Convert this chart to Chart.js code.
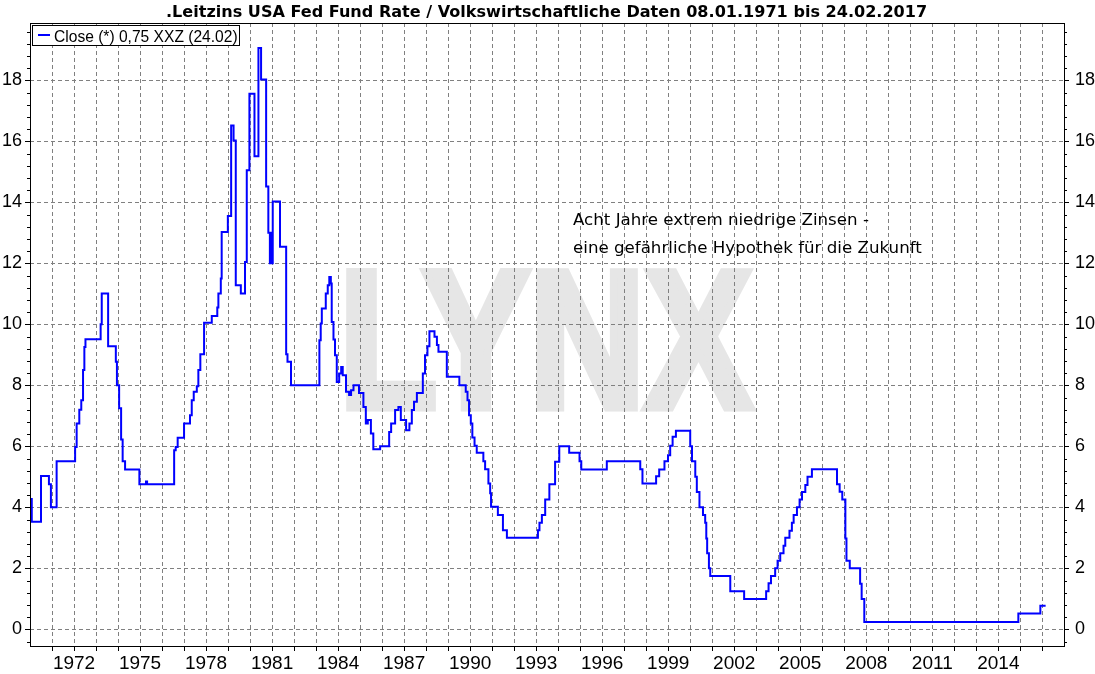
<!DOCTYPE html>
<html>
<head>
<meta charset="utf-8">
<script src="https://cdn.jsdelivr.net/npm/chart.js@4.4.1/dist/chart.umd.min.js"></script>
<style>html,body{margin:0;padding:0;background:#fff;overflow:hidden} canvas{display:block}</style>
</head>
<body>
<canvas id="c" width="1095" height="674"></canvas>
<script>
// Fed Funds rate, step changes (decimal year, percent)
const rateDates = [1971.02,1971.08,1971.50,1971.86,1971.95,1972.21,1973.05,1973.12,1973.24,1973.33,
  1973.41,1973.47,1973.52,1974.21,1974.26,1974.55,1974.90,1974.95,1975.05,1975.14,
  1975.21,1975.32,1975.97,1976.27,1976.32,1977.55,1977.62,1977.71,1978.00,1978.27,
  1978.35,1978.44,1978.58,1978.65,1978.74,1978.91,1979.26,1979.51,1979.56,1979.67,
  1979.71,1979.99,1980.14,1980.25,1980.35,1980.58,1980.77,1980.85,1980.97,1981.20,
  1981.38,1981.50,1981.73,1981.83,1981.90,1981.93,1981.98,1982.03,1982.36,1982.64,
  1982.70,1982.86,1984.15,1984.21,1984.26,1984.44,1984.53,1984.60,1984.67,1984.71,
  1984.79,1984.86,1984.94,1985.05,1985.14,1985.21,1985.36,1985.50,1985.59,1985.70,
  1985.95,1986.15,1986.26,1986.35,1986.49,1986.60,1986.91,1987.32,1987.41,1987.59,
  1987.74,1987.85,1988.09,1988.24,1988.35,1988.45,1988.58,1988.85,1988.95,1989.06,
  1989.15,1989.38,1989.49,1989.56,1989.94,1990.51,1990.80,1990.88,1990.95,1991.03,
  1991.10,1991.20,1991.30,1991.60,1991.68,1991.83,1991.91,1991.95,1992.26,1992.49,
  1992.67,1994.08,1994.15,1994.26,1994.41,1994.60,1994.86,1995.05,1995.50,1995.97,
  1996.05,1997.21,1998.73,1998.83,1999.45,1999.59,1999.83,1999.99,2000.09,2000.20,
  2000.35,2001.00,2001.08,2001.23,2001.30,2001.42,2001.58,2001.68,2001.73,2001.77,
  2001.85,2001.91,2002.82,2003.45,2004.45,2004.56,2004.67,2004.86,2004.97,2005.09,
  2005.24,2005.32,2005.51,2005.62,2005.70,2005.85,2005.97,2006.08,2006.23,2006.33,
  2006.53,2007.67,2007.79,2007.91,2008.05,2008.10,2008.25,2008.72,2008.79,2008.91,
  2015.91,2016.91,2017.15];
const rateValues = [4.27,3.53,5.03,4.76,4.00,5.51,5.98,6.75,7.20,7.51,
  8.50,9.26,9.51,10.00,11.01,9.28,8.77,8.00,7.25,6.22,
  5.51,5.24,4.76,4.85,4.76,5.87,5.98,6.28,6.75,7.02,
  7.51,7.79,7.97,8.50,9.02,10.05,10.27,10.55,11.01,11.50,
  13.03,13.55,16.52,16.03,11.28,11.01,12.04,15.05,17.56,15.51,
  19.06,18.03,14.52,13.00,12.00,13.00,12.00,14.03,12.54,9.02,
  8.77,8.00,9.48,10.03,10.52,11.01,11.28,11.55,11.34,10.08,
  9.50,8.99,8.11,8.39,8.60,8.33,7.79,7.68,7.84,8.00,
  7.75,7.29,6.75,6.86,6.42,5.90,6.00,6.47,6.75,7.19,
  7.29,6.86,6.53,6.75,7.19,7.46,7.75,8.39,8.99,9.28,
  9.77,9.59,9.32,9.10,8.28,8.00,7.79,7.51,7.02,6.75,
  6.29,6.02,5.79,5.51,5.25,4.78,4.46,4.02,3.75,3.25,
  3.00,3.25,3.49,3.75,4.26,4.76,5.49,6.00,5.79,5.51,
  5.24,5.51,5.25,4.78,5.02,5.24,5.51,5.71,6.02,6.31,
  6.51,6.00,5.51,5.00,4.50,4.00,3.75,3.49,2.98,2.49,
  2.00,1.75,1.25,0.99,1.25,1.51,1.75,2.00,2.25,2.49,
  2.74,3.00,3.23,3.49,3.75,4.00,4.26,4.50,4.73,5.00,
  5.25,4.76,4.51,4.26,2.98,2.25,2.00,1.49,0.99,0.24,
  0.52,0.77,0.77];
const yTickValues = [0,2,4,6,8,10,12,14,16,18];
const xLabelYears = [1972,1975,1978,1981,1984,1987,1990,1993,1996,1999,2002,2005,2008,2011,2014];
const gridYears = [];
for (let y = 1971; y <= 2018; y++) gridYears.push(y);

const TITLE = ".Leitzins USA Fed Fund Rate / Volkswirtschaftliche Daten 08.01.1971 bis 24.02.2017";
const LEGEND = "Close (*) 0,75 XXZ (24.02)";
const NOTE = ["Acht Jahre extrem niedrige Zinsen -", "eine gefährliche Hypothek für die Zukunft"];
const SANS = '"Liberation Sans", Arial, sans-serif';

// fit a string's ink width by horizontal scaling
function fitText(ctx, txt, x, y, w, stroke){
  const m = ctx.measureText(txt);
  const ink = m.actualBoundingBoxRight + m.actualBoundingBoxLeft;
  const s = w / ink;
  ctx.save(); ctx.translate(x + m.actualBoundingBoxLeft * s, y); ctx.scale(s, 1);
  ctx.fillText(txt, 0, 0);
  if (stroke) ctx.strokeText(txt, 0, 0);
  ctx.restore();
}

const deco = {
  id: 'deco',
  beforeDraw(chart){
    const ctx = chart.ctx;
    ctx.save();
    ctx.fillStyle = '#fff'; ctx.fillRect(0, 0, chart.width, chart.height);
    // watermark: heavy, narrow letters
    ctx.fillStyle = '#e6e6e6'; ctx.strokeStyle = '#e6e6e6';
    ctx.lineWidth = 9; ctx.lineJoin = 'miter';
    ctx.font = 'bold 195px ' + SANS; ctx.textBaseline = 'alphabetic';
    fitText(ctx, 'LYNX', 350, 406.5, 401, true);
    ctx.restore();
  },
  afterDraw(chart){
    const ctx = chart.ctx, a = chart.chartArea;
    const ys = chart.scales.y, xs = chart.scales.x;
    ctx.save();
    ctx.strokeStyle = '#000'; ctx.lineWidth = 1;
    ctx.strokeRect(a.left + 0.5, a.top + 0.5, a.right - a.left - 1, a.bottom - a.top - 1);
    // tick marks on both value axes
    ctx.beginPath();
    for (let k = Math.ceil(ys.min / 0.4); k <= Math.floor(ys.max / 0.4); k++){
      const py = Math.round(ys.getPixelForValue(k * 0.4)) + 0.5;
      const len = (k % 5 === 0) ? 5 : 3;
      ctx.moveTo(a.left - len, py); ctx.lineTo(a.left, py);
      ctx.moveTo(a.right - 1, py); ctx.lineTo(a.right - 1 + len, py);
    }
    gridYears.forEach(v => {
      const px = Math.round(xs.getPixelForValue(v)) + 0.5;
      if (px > a.left + 1 && px < a.right - 1){ ctx.moveTo(px, a.bottom); ctx.lineTo(px, a.bottom + 4); }
    });
    ctx.stroke();
    // legend box
    ctx.fillStyle = '#fff'; ctx.fillRect(32, 25, 208, 20);
    ctx.strokeRect(32.5, 25.5, 207, 20);
    ctx.strokeStyle = '#0000ff'; ctx.lineWidth = 2;
    ctx.beginPath(); ctx.moveTo(38, 35); ctx.lineTo(50, 35); ctx.stroke();
    ctx.fillStyle = '#000'; ctx.font = '17px ' + SANS; ctx.textBaseline = 'alphabetic';
    fitText(ctx, LEGEND, 54, 41.5, 183);
    // annotation
    ctx.font = '16px "DejaVu Sans", sans-serif';
    const w16 = ctx.measureText(NOTE[1]).width;
    ctx.font = (16 * 349 / w16).toFixed(2) + 'px "DejaVu Sans", sans-serif';
    ctx.fillText(NOTE[0], 573, 225);
    ctx.fillText(NOTE[1], 573, 252.5);
    // title
    ctx.font = 'bold 16px "DejaVu Sans", sans-serif';
    fitText(ctx, TITLE, 167, 17, 759);
    ctx.restore();
  }
};

const yCommon = {
  type: 'linear', min: -0.58, max: 19.88,
  afterBuildTicks: s => { s.ticks = yTickValues.map(v => ({value: v})); },
  afterFit: s => { s.width = 30; },
  border: {display: false, dash: [4, 3]}
};

new Chart(document.getElementById('c').getContext('2d'), {
  type: 'line',
  data: {
    datasets: [{
      label: LEGEND,
      data: rateDates.map((d, i) => ({x: d, y: rateValues[i]})),
      borderColor: '#0000ff', borderWidth: 2, stepped: 'before',
      pointRadius: 0, fill: false
    }]
  },
  options: {
    animation: false, responsive: false, maintainAspectRatio: false,
    layout: {padding: {top: 23, left: 0, right: 0, bottom: 0}},
    plugins: {legend: {display: false}, tooltip: {enabled: false}, title: {display: false}},
    scales: {
      x: {
        type: 'linear', min: 1971, max: 2018.03,
        afterBuildTicks: s => { s.ticks = gridYears.map(v => ({value: v})); },
        afterFit: s => { s.height = 27; },
        grid: {color: '#808080', lineWidth: 1, drawTicks: false},
        border: {display: false, dash: [4, 3]},
        ticks: {
          padding: 5, autoSkip: false, maxRotation: 0, color: '#000',
          font: {family: SANS, size: 19},
          callback: v => xLabelYears.includes(v - 1) ? String(v - 1) : ''
        }
      },
      y: Object.assign({}, yCommon, {
        position: 'left',
        grid: {color: '#808080', lineWidth: 1, drawTicks: false},
        ticks: {padding: 8, color: '#000', font: {family: SANS, size: 18}}
      }),
      y2: Object.assign({}, yCommon, {
        position: 'right',
        grid: {display: false, drawTicks: false},
        ticks: {padding: 10, color: '#000', font: {family: SANS, size: 18}}
      })
    }
  },
  plugins: [deco]
});
</script>
</body>
</html>
